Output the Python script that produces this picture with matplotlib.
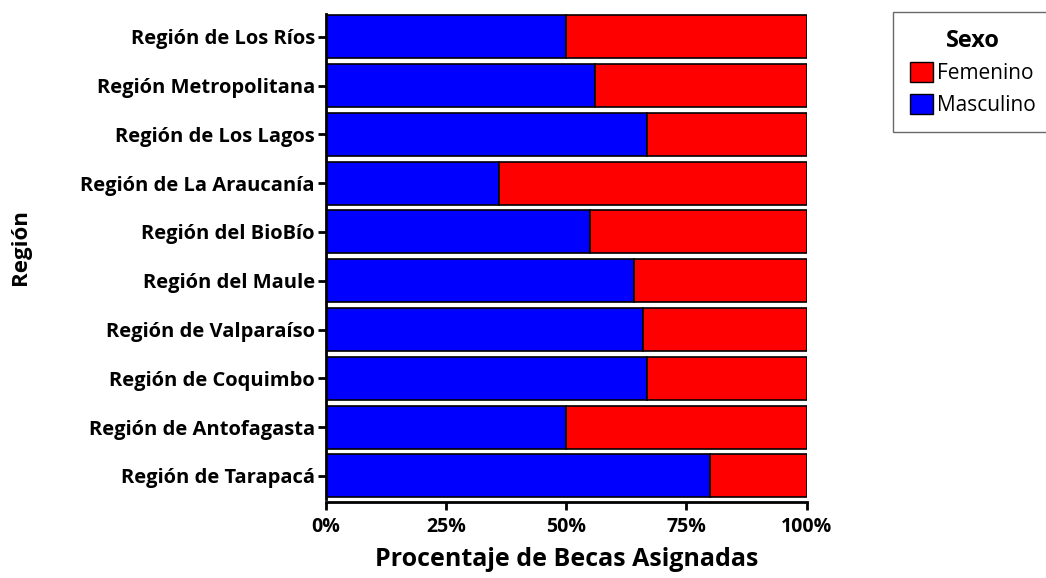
import numpy as np
import matplotlib.pyplot as plt
from matplotlib.patches import Patch
from matplotlib.ticker import PercentFormatter

plt.rcParams['font.family'] = ['Open Sans', 'DejaVu Sans']

# bottom to top, as drawn
regiones = ['Región de Tarapacá', 'Región de Antofagasta', 'Región de Coquimbo',
            'Región de Valparaíso', 'Región del Maule', 'Región del BioBío',
            'Región de La Araucanía', 'Región de Los Lagos',
            'Región Metropolitana', 'Región de Los Ríos']
masculino = [80, 50, 66.7, 66, 64, 55, 36, 66.7, 56, 50]
femenino = [100 - m for m in masculino]

fig = plt.figure(figsize=(10.46, 5.78), dpi=100)
ax = fig.add_axes([0.3117, 0.137, 0.4594, 0.839])

y = np.arange(len(regiones))
ax.barh(y, masculino, height=0.88, color='#0000ff', edgecolor='black', linewidth=1.2)
ax.barh(y, femenino, left=masculino, height=0.88, color='#ff0000', edgecolor='black', linewidth=1.2)

ax.set_xlim(0, 100)
ax.set_ylim(-0.47, len(regiones) - 0.53)
ax.set_xticks([0, 25, 50, 75, 100])
ax.xaxis.set_major_formatter(PercentFormatter(decimals=0))
ax.set_yticks(y)
ax.set_yticklabels(regiones)

for s in ['top', 'right']:
    ax.spines[s].set_visible(False)
for s in ['left', 'bottom']:
    ax.spines[s].set_linewidth(2)
ax.spines['bottom'].set_position(('outward', 2))
ax.tick_params(axis='both', width=2, length=6, labelsize=14, pad=2)
ax.tick_params(axis='y', labelsize=14.5)
ax.tick_params(axis='x', pad=5)
for lab in ax.get_xticklabels() + ax.get_yticklabels():
    lab.set_fontweight('bold')

ax.set_xlabel('Procentaje de Becas Asignadas', fontsize=18, fontweight='bold', labelpad=7)
ax.set_ylabel('Región', fontsize=16, fontweight='bold')
ax.yaxis.set_label_coords(-0.615, 0.52)

handles = [Patch(facecolor='#ff0000', edgecolor='black', label='Femenino'),
           Patch(facecolor='#0000ff', edgecolor='black', label='Masculino')]
leg = fig.legend(handles=handles, title='Sexo', loc='upper left',
                 bbox_to_anchor=(893 / 1046, 1 - 12 / 578), fontsize=15, frameon=True,
                 fancybox=False, edgecolor='#444444', handlelength=1.1,
                 handleheight=1.1, handletextpad=0.2, borderpad=0.8,
                 labelspacing=0.45, borderaxespad=0)
leg.get_title().set_fontweight('bold')
leg.get_title().set_fontsize(17)
leg.get_frame().set_linewidth(1)

fig.savefig('out.png', dpi=100)
